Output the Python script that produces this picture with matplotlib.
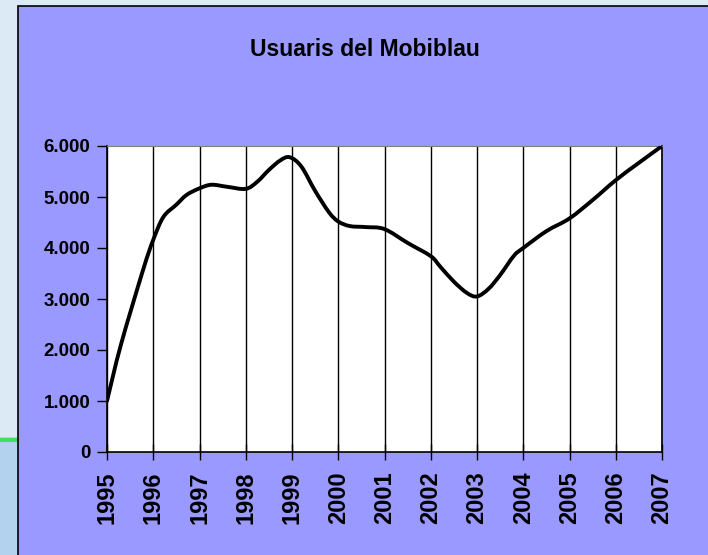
import numpy as np
import matplotlib.pyplot as plt
from matplotlib.patches import Rectangle, PathPatch
from matplotlib.path import Path
from matplotlib.ticker import FuncFormatter

# users of Mobiblau
anys = [1995.0, 1995.3, 1995.78, 1996.0, 1996.22, 1996.5, 1996.72, 1997.0, 1997.26,
        1997.6, 1998.0, 1998.25, 1998.5, 1998.75, 1998.95, 1999.2, 1999.5, 1999.8,
        2000.0, 2000.25, 2000.6, 2001.0, 2001.5, 2002.0, 2002.2, 2002.5, 2002.78,
        2003.0, 2003.25, 2003.5, 2003.8, 2004.0, 2004.5, 2005.0, 2005.5, 2006.0,
        2006.5, 2007.0]
usuaris = [1000, 2100, 3570, 4160, 4610, 4850, 5040, 5170, 5240,
           5200, 5160, 5300, 5530, 5720, 5780, 5600, 5120, 4700,
           4520, 4430, 4410, 4370, 4100, 3840, 3640, 3340, 3120,
           3050, 3200, 3470, 3850, 4000, 4330, 4580, 4940, 5330,
           5670, 6000]
anys_ticks = list(range(1995, 2008))


def smooth_path(xs, ys):
    # Excel-like smoothed line: catmull-rom through the points as bezier curves
    p = np.column_stack([xs, ys]).astype(float)
    verts = [p[0]]
    codes = [Path.MOVETO]
    n = len(p)
    for i in range(n - 1):
        p0 = p[max(i - 1, 0)]
        p1 = p[i]
        p2 = p[i + 1]
        p3 = p[min(i + 2, n - 1)]
        verts += [p1 + (p2 - p0) / 6, p2 - (p3 - p1) / 6, p2]
        codes += [Path.CURVE4] * 3
    return Path(verts, codes)


fig = plt.figure(figsize=(7.08, 5.55), dpi=100)
fig.patch.set_facecolor('#DCEAF6')

# slide decoration on the left + purple chart box
fig.patches.append(Rectangle((0, 0), 18/708, 1 - 437/555, transform=fig.transFigure,
                             facecolor='#B3D2EE', edgecolor='none', zorder=-3))
fig.patches.append(Rectangle((0, 1 - 442/555), 18/708, 4/555, transform=fig.transFigure,
                             facecolor='#3EE060', edgecolor='none', zorder=-3))
fig.patches.append(Rectangle((18/708, -0.01), 1.0, 1 - 6/555 + 0.01, transform=fig.transFigure,
                             facecolor='#9999FF', edgecolor='black', linewidth=1.2, zorder=-2))

ax = fig.add_axes([107/708, 1 - 452/555, 555/708, 306/555])
ax.set_facecolor('white')
ax.add_patch(PathPatch(smooth_path(anys, usuaris), fill=False, edgecolor='black',
                       linewidth=2.8, capstyle='round', joinstyle='round', zorder=3))

ax.set_xlim(1995, 2007)
ax.set_ylim(0, 6000)
ax.set_xticks(anys_ticks)
ax.set_xticklabels([str(a) for a in anys_ticks], rotation=90)
ax.set_yticks(range(0, 6001, 1000))
ax.yaxis.set_major_formatter(FuncFormatter(lambda v, p: f'{int(v):,}'.replace(',', '.')))
ax.grid(axis='x', color='black', linewidth=1)

for lab in ax.get_yticklabels():
    lab.set_fontfamily('Liberation Sans')
    lab.set_fontweight('bold')
    lab.set_fontsize(13.5)
for lab in ax.get_xticklabels():
    lab.set_fontfamily('Liberation Sans')
    lab.set_fontweight('bold')
    lab.set_fontsize(17)
ax.tick_params(axis='y', direction='out', length=7, width=1, pad=5)
ax.tick_params(axis='x', direction='inout', length=12, width=1, pad=8)

ax.spines['top'].set_color('#808080')
for s in ['left', 'bottom', 'right']:
    ax.spines[s].set_color('black')
    ax.spines[s].set_linewidth(1.2)

fig.text(365/708, 1 - 50/555, 'Usuaris del Mobiblau', ha='center', va='center',
         fontfamily='Liberation Sans', fontweight='bold', fontsize=16.5)

plt.savefig('out.png', dpi=100, facecolor=fig.get_facecolor())
